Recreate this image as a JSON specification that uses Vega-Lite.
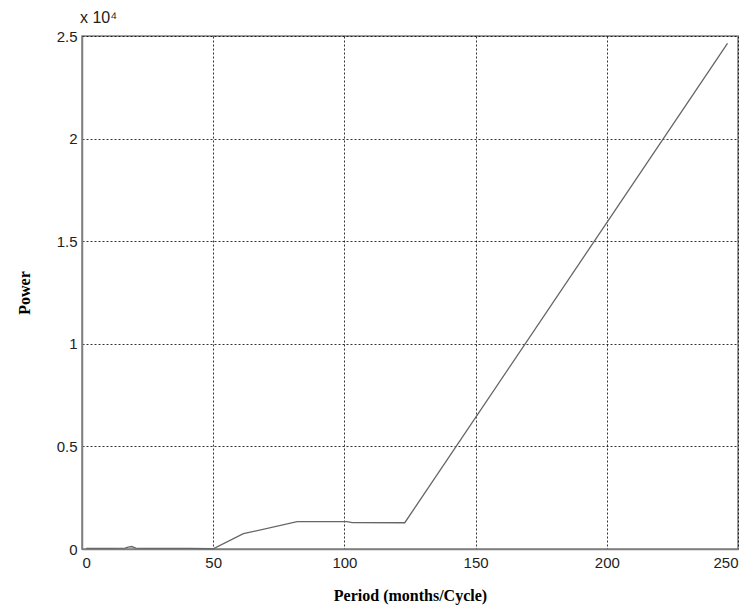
{
  "$schema": "https://vega.github.io/schema/vega-lite/v6.json",
  "autosize": {"type": "none"},
  "width": 656,
  "height": 513,
  "padding": {"left": 82, "top": 36, "right": 17, "bottom": 61},
  "background": "white",
  "title": {
    "text": "x 10⁴",
    "anchor": "start",
    "frame": "group",
    "font": "Liberation Sans",
    "fontSize": 16,
    "fontWeight": "normal",
    "color": "#222222",
    "offset": 3,
    "dx": -2
  },
  "config": {
    "view": {"stroke": "#7f7f7f", "strokeWidth": 1.5},
    "axis": {
      "domainColor": "#7f7f7f",
      "domainWidth": 1.5,
      "ticks": false,
      "grid": true,
      "gridColor": "#000000",
      "gridDash": [2, 2],
      "gridWidth": 1,
      "gridOpacity": 0.8,
      "labelFont": "Liberation Sans",
      "labelFontSize": 15,
      "labelColor": "#222222",
      "titleFont": "Liberation Serif",
      "titleFontSize": 16,
      "titleFontWeight": "bold",
      "titleColor": "#000000"
    }
  },
  "data": {
    "values": [
      {"period": 1.6, "power": 30},
      {"period": 10, "power": 30},
      {"period": 16.4, "power": 40},
      {"period": 17.6, "power": 90},
      {"period": 18.9, "power": 120},
      {"period": 20.5, "power": 40},
      {"period": 24.6, "power": 30},
      {"period": 30.75, "power": 30},
      {"period": 41, "power": 30},
      {"period": 49.2, "power": 20},
      {"period": 50, "power": 10},
      {"period": 61.5, "power": 745},
      {"period": 82, "power": 1330},
      {"period": 101, "power": 1330},
      {"period": 103, "power": 1290},
      {"period": 123, "power": 1280},
      {"period": 246, "power": 24640}
    ]
  },
  "mark": {"type": "line", "color": "#666666", "strokeWidth": 1.3},
  "encoding": {
    "x": {
      "field": "period",
      "type": "quantitative",
      "scale": {"domain": [0, 250], "nice": false},
      "axis": {"values": [0, 50, 100, 150, 200, 250], "title": "Period (months/Cycle)", "labelPadding": 6, "titlePadding": 17}
    },
    "y": {
      "field": "power",
      "type": "quantitative",
      "scale": {"domain": [0, 25000], "nice": false},
      "axis": {"values": [0, 5000, 10000, 15000, 20000, 25000], "labelExpr": "format(datum.value / 10000, '~g')", "title": "Power", "labelPadding": 5, "titlePadding": 24}
    }
  }
}
